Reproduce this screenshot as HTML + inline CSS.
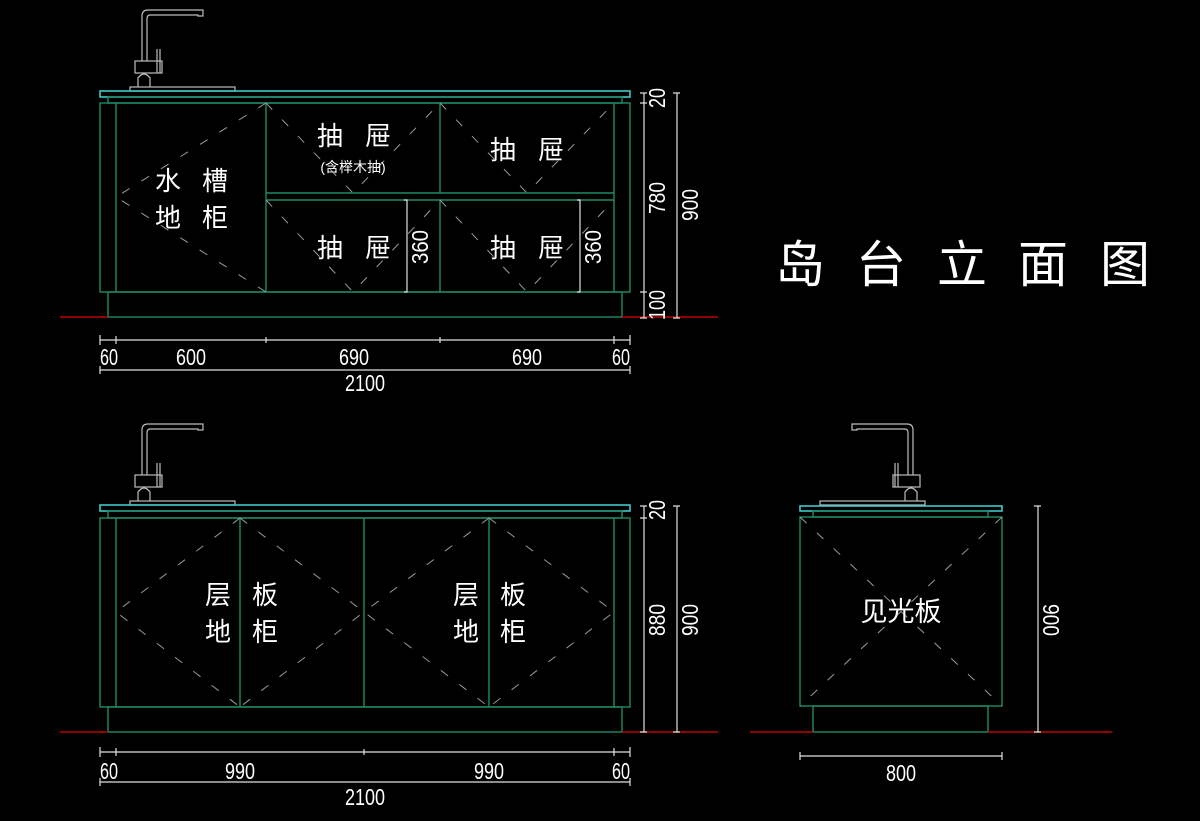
<!DOCTYPE html>
<html><head><meta charset="utf-8"><style>
html,body{margin:0;padding:0;background:#000;}
svg{display:block;}
.g{stroke:#1e8a68;stroke-width:1.4;fill:none;}
.c{stroke:#3cc8c8;stroke-width:1.6;fill:none;}
.w{stroke:#e0e0e0;stroke-width:1.2;fill:none;}
.f{stroke:#bdbdbd;stroke-width:1.2;fill:none;}
.r{stroke:#c00000;stroke-width:1.6;}
.d{stroke:#9a9a9a;stroke-width:1;stroke-dasharray:9 14;fill:none;}
.t{fill:#fff;font-family:"Liberation Sans","Noto Sans CJK SC",sans-serif;}
.n{fill:#fff;font-family:"Liberation Sans",sans-serif;font-size:23px;}
</style></head><body>
<svg width="1200" height="821" viewBox="0 0 1200 821" xmlns="http://www.w3.org/2000/svg">
<defs>
<g id="faucet">
<path class="f" d="M142 55 V16 Q142 10 148 10 H203 V16 H198 V15 H150 Q147 15 147 19 V55"/>
<rect class="f" x="135" y="61" width="27" height="12"/>
<path class="f" d="M142 55 V61 M147 55 V61"/>
<path class="f" d="M157 49 V73 M160 49 V73"/>
<path class="f" d="M138 87 V78 Q144 70 150 78 V87"/>
<rect class="f" x="130" y="87" width="105" height="4"/>
</g>
</defs>

<use href="#faucet"/>
<rect class="c" x="100" y="91" width="530" height="6"/>
<rect class="g" x="108" y="97" width="514" height="6"/>
<rect class="g" x="100" y="103" width="530" height="189"/>
<line class="g" x1="116" y1="103" x2="116" y2="292"/>
<line class="g" x1="614" y1="103" x2="614" y2="292"/>
<line class="g" x1="266" y1="103" x2="266" y2="292"/>
<line class="g" x1="440" y1="103" x2="440" y2="193"/>
<line class="g" x1="440" y1="200" x2="440" y2="292"/>
<line class="g" x1="266" y1="193" x2="614" y2="193"/>
<line class="g" x1="266" y1="200" x2="614" y2="200"/>
<rect class="g" x="108" y="292" width="514" height="25"/>
<line class="r" x1="60" y1="317" x2="108" y2="317"/>
<line class="r" x1="622" y1="317" x2="718" y2="317"/>
<path class="d" d="M266 103 L116 197 L266 292"/>
<path class="d" d="M266 103 L353 193 L440 103"/>
<path class="d" d="M440 103 L527 193 L614 103"/>
<path class="d" d="M266 200 L353 292 L440 200"/>
<path class="d" d="M440 200 L527 292 L614 200"/>
<text class="t" font-size="26" x="168" y="190" text-anchor="middle">水</text>
<text class="t" font-size="26" x="215" y="190" text-anchor="middle">槽</text>
<text class="t" font-size="26" x="168" y="227" text-anchor="middle">地</text>
<text class="t" font-size="26" x="215" y="227" text-anchor="middle">柜</text>
<text class="t" font-size="26" x="330" y="145" text-anchor="middle">抽</text>
<text class="t" font-size="26" x="378" y="145" text-anchor="middle">屉</text>
<text class="t" font-size="14" x="353" y="172" text-anchor="middle">(含榉木抽)</text>
<text class="t" font-size="26" x="503" y="159" text-anchor="middle">抽</text>
<text class="t" font-size="26" x="551" y="159" text-anchor="middle">屉</text>
<text class="t" font-size="26" x="330" y="257" text-anchor="middle">抽</text>
<text class="t" font-size="26" x="378" y="257" text-anchor="middle">屉</text>
<text class="t" font-size="26" x="503" y="257" text-anchor="middle">抽</text>
<text class="t" font-size="26" x="551" y="257" text-anchor="middle">屉</text>
<path class="w" d="M404 200 H407 V292 H404 M577 200 H580 V292 H577"/>
<text class="n" transform="translate(428,247) rotate(-90)" text-anchor="middle" textLength="34" lengthAdjust="spacingAndGlyphs">360</text>
<text class="n" transform="translate(601,247) rotate(-90)" text-anchor="middle" textLength="34" lengthAdjust="spacingAndGlyphs">360</text>
<path class="w" d="M640 93 H647 M644 93 V318 M640 103 H647 M640 292 H647 M640 318 H647"/>
<path class="w" d="M673 93 H680 M677 93 V318 M673 318 H680"/>
<text class="n" transform="translate(665,98) rotate(-90)" text-anchor="middle" textLength="20" lengthAdjust="spacingAndGlyphs">20</text>
<text class="n" transform="translate(665,198) rotate(-90)" text-anchor="middle" textLength="32" lengthAdjust="spacingAndGlyphs">780</text>
<text class="n" transform="translate(665,305) rotate(-90)" text-anchor="middle" textLength="30" lengthAdjust="spacingAndGlyphs">100</text>
<text class="n" transform="translate(698,205) rotate(-90)" text-anchor="middle" textLength="32" lengthAdjust="spacingAndGlyphs">900</text>
<path class="w" d="M100 340 H630 M100 335 V345 M116 336 V344 M266 337 V343 M440 337 V343 M614 336 V344 M630 335 V345"/>
<path class="w" d="M100 370 H630 M100 366 V374 M630 366 V374"/>
<text class="n" x="109" y="365" text-anchor="middle" textLength="18" lengthAdjust="spacingAndGlyphs">60</text>
<text class="n" x="191" y="365" text-anchor="middle" textLength="30" lengthAdjust="spacingAndGlyphs">600</text>
<text class="n" x="354" y="365" text-anchor="middle" textLength="30" lengthAdjust="spacingAndGlyphs">690</text>
<text class="n" x="527" y="365" text-anchor="middle" textLength="30" lengthAdjust="spacingAndGlyphs">690</text>
<text class="n" x="621" y="365" text-anchor="middle" textLength="18" lengthAdjust="spacingAndGlyphs">60</text>
<text class="n" x="365" y="391" text-anchor="middle" textLength="40" lengthAdjust="spacingAndGlyphs">2100</text>

<use href="#faucet" transform="translate(0,414)"/>
<rect class="c" x="100" y="505" width="530" height="6"/>
<rect class="g" x="108" y="511" width="514" height="7"/>
<rect class="g" x="100" y="518" width="530" height="189"/>
<line class="g" x1="116" y1="518" x2="116" y2="707"/>
<line class="g" x1="614" y1="518" x2="614" y2="707"/>
<line class="g" x1="240" y1="518" x2="240" y2="707"/>
<line class="g" x1="364" y1="518" x2="364" y2="707"/>
<line class="g" x1="489" y1="518" x2="489" y2="707"/>
<rect class="g" x="108" y="707" width="514" height="25"/>
<line class="r" x1="60" y1="732" x2="108" y2="732"/>
<line class="r" x1="622" y1="732" x2="718" y2="732"/>
<path class="d" d="M240 518 L116 612 L240 707"/>
<path class="d" d="M240 518 L364 612 L240 707"/>
<path class="d" d="M489 518 L364 612 L489 707"/>
<path class="d" d="M489 518 L614 612 L489 707"/>
<text class="t" font-size="26" x="218" y="604" text-anchor="middle">层</text>
<text class="t" font-size="26" x="265" y="604" text-anchor="middle">板</text>
<text class="t" font-size="26" x="218" y="641" text-anchor="middle">地</text>
<text class="t" font-size="26" x="265" y="641" text-anchor="middle">柜</text>
<text class="t" font-size="26" x="466" y="604" text-anchor="middle">层</text>
<text class="t" font-size="26" x="513" y="604" text-anchor="middle">板</text>
<text class="t" font-size="26" x="466" y="641" text-anchor="middle">地</text>
<text class="t" font-size="26" x="513" y="641" text-anchor="middle">柜</text>
<path class="w" d="M640 506 H647 M644 506 V732 M640 518 H647 M640 732 H647"/>
<path class="w" d="M673 506 H680 M677 506 V732 M673 732 H680"/>
<text class="n" transform="translate(665,510) rotate(-90)" text-anchor="middle" textLength="20" lengthAdjust="spacingAndGlyphs">20</text>
<text class="n" transform="translate(665,620) rotate(-90)" text-anchor="middle" textLength="32" lengthAdjust="spacingAndGlyphs">880</text>
<text class="n" transform="translate(698,620) rotate(-90)" text-anchor="middle" textLength="32" lengthAdjust="spacingAndGlyphs">900</text>
<path class="w" d="M100 752 H630 M100 747 V757 M116 748 V756 M364 749 V755 M614 748 V756 M630 747 V757"/>
<path class="w" d="M100 782 H630 M100 778 V786 M630 778 V786"/>
<text class="n" x="109" y="779" text-anchor="middle" textLength="18" lengthAdjust="spacingAndGlyphs">60</text>
<text class="n" x="240" y="779" text-anchor="middle" textLength="30" lengthAdjust="spacingAndGlyphs">990</text>
<text class="n" x="489" y="779" text-anchor="middle" textLength="30" lengthAdjust="spacingAndGlyphs">990</text>
<text class="n" x="621" y="779" text-anchor="middle" textLength="18" lengthAdjust="spacingAndGlyphs">60</text>
<text class="n" x="365" y="805" text-anchor="middle" textLength="40" lengthAdjust="spacingAndGlyphs">2100</text>

<g transform="translate(1055,414) scale(-1,1)">
<use href="#faucet"/>
</g>
<rect class="c" x="800" y="506" width="202" height="5"/>
<rect class="g" x="813" y="511" width="175" height="6"/>
<rect class="g" x="800" y="517" width="202" height="189"/>
<rect class="g" x="813" y="706" width="175" height="26"/>
<line class="r" x1="750" y1="732" x2="813" y2="732"/>
<line class="r" x1="988" y1="732" x2="1112" y2="732"/>
<path class="d" d="M800 517 L1002 706 M1002 517 L800 706"/>
<text class="t" font-size="27" x="901" y="621" text-anchor="middle">见光板</text>
<path class="w" d="M1034 506 H1041 M1038 506 V732 M1034 732 H1041"/>
<text class="n" transform="translate(1043,620) rotate(90)" text-anchor="middle" textLength="32" lengthAdjust="spacingAndGlyphs">900</text>
<path class="w" d="M800 756 H1002 M800 752 V760 M1002 752 V760"/>
<text class="n" x="901" y="781" text-anchor="middle" textLength="30" lengthAdjust="spacingAndGlyphs">800</text>

<text class="t" font-size="50" x="800" y="282" text-anchor="middle">岛</text>
<text class="t" font-size="50" x="881" y="282" text-anchor="middle">台</text>
<text class="t" font-size="50" x="962" y="282" text-anchor="middle">立</text>
<text class="t" font-size="50" x="1043" y="282" text-anchor="middle">面</text>
<text class="t" font-size="50" x="1125" y="282" text-anchor="middle">图</text>
</svg>
</body></html>
